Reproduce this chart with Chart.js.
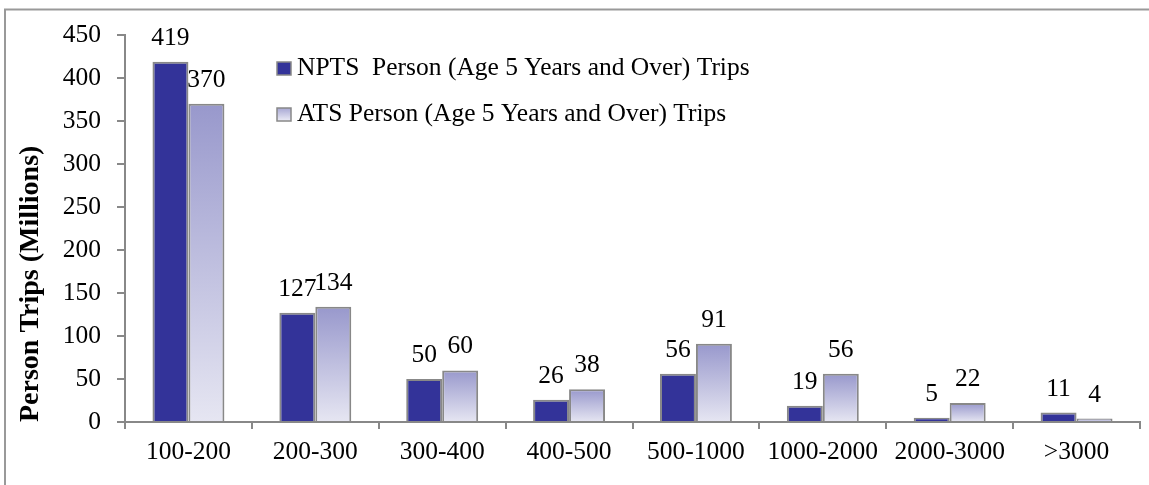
<!DOCTYPE html>
<html>
<head>
<meta charset="utf-8">
<script src="https://cdn.jsdelivr.net/npm/chart.js@4.4.1/dist/chart.umd.min.js"></script>
<style>
html,body{margin:0;padding:0;background:#fff;}
#wrap{position:relative;width:1149px;height:485px;}
</style>
</head>
<body>
<div id="wrap"><canvas id="c" width="1149" height="485"></canvas></div>
<script>
const categories = ["100-200","200-300","300-400","400-500","500-1000","1000-2000","2000-3000",">3000"];
const nptsValues = [419,127,50,26,56,19,5,11];
const atsValues = [370,134,60,38,91,56,22,4];
const seriesNames = ["NPTS  Person (Age 5 Years and Over) Trips","ATS Person (Age 5 Years and Over) Trips"];
const yTitle = "Person Trips (Millions)";

const FONT = "'Liberation Serif', 'Times New Roman', serif";
const FS = 25.5;
const NPTS_COLOR = "#333399";
const BORDER = "#888888";

function atsGradient(ctx){
  const chart = ctx.chart;
  if (!chart.chartArea || ctx.type !== 'data') return "#b8b8dc";
  const y = chart.scales.y;
  const top = y.getPixelForValue(ctx.raw);
  const bottom = y.getPixelForValue(0);
  if (!isFinite(top) || !isFinite(bottom) || bottom - top < 1) return "#dcdcec";
  const g = chart.ctx.createLinearGradient(0, top, 0, bottom);
  g.addColorStop(0, "#9898cc");
  g.addColorStop(1, "#e6e6f2");
  return g;
}

const decorPlugin = {
  id: 'decor',
  afterDraw(chart){
    const c = chart.ctx;
    c.save();
    // outer frame
    c.strokeStyle = "#999999";
    c.lineWidth = 2;
    c.beginPath();
    c.moveTo(5, 490);
    c.lineTo(5, 9.5);
    c.lineTo(1155, 9.5);
    c.stroke();
    // data labels
    c.font = FS + "px " + FONT;
    c.fillStyle = "#000";
    c.textAlign = "center";
    c.textBaseline = "alphabetic";
    chart.data.datasets.forEach((ds, i) => {
      const meta = chart.getDatasetMeta(i);
      meta.data.forEach((el, j) => {
        c.fillText(String(ds.data[j]), el.x, el.y - 17);
      });
    });
    // legend
    const items = [
      {text: seriesNames[0], fill: NPTS_COLOR, base: 75},
      {text: seriesNames[1], fill: null, base: 121}
    ];
    c.textAlign = "left";
    items.forEach(it => {
      const bx = 277, by = it.base - 13, bw = 14, bh = 13;
      if (it.fill) { c.fillStyle = it.fill; }
      else {
        const g = c.createLinearGradient(0, by, 0, by + bh);
        g.addColorStop(0, "#a8a8d4"); g.addColorStop(1, "#ececf6");
        c.fillStyle = g;
      }
      c.fillRect(bx, by, bw, bh);
      c.strokeStyle = BORDER; c.lineWidth = 1.5;
      c.strokeRect(bx, by, bw, bh);
      c.fillStyle = "#000";
      c.fillText(it.text, 297, it.base);
    });
    c.restore();
  }
};

new Chart(document.getElementById('c'), {
  type: 'bar',
  data: {
    labels: categories,
    datasets: [
      {label: seriesNames[0], data: nptsValues, backgroundColor: NPTS_COLOR, borderColor: BORDER, borderWidth: 2, categoryPercentage: 0.567, barPercentage: 1},
      {label: seriesNames[1], data: atsValues, backgroundColor: atsGradient, borderColor: BORDER, borderWidth: 2, categoryPercentage: 0.567, barPercentage: 1}
    ]
  },
  options: {
    responsive: false,
    animation: false,
    devicePixelRatio: 1,
    layout: {padding: {left: 0, right: 9, top: 35, bottom: 0}},
    plugins: {legend: {display: false}, tooltip: {enabled: false}},
    scales: {
      x: {
        grid: {display: true, drawOnChartArea: false, drawTicks: true, tickLength: 7, color: BORDER, lineWidth: 2, offset: true},
        border: {color: BORDER, width: 2},
        ticks: {font: {family: FONT, size: FS}, color: "#000", padding: 8, maxRotation: 0, autoSkip: false},
        afterFit(s){ s.height = 63; }
      },
      y: {
        min: 0, max: 450,
        grid: {display: true, drawOnChartArea: false, drawTicks: true, tickLength: 8, color: BORDER, lineWidth: 2},
        border: {color: BORDER, width: 2},
        ticks: {stepSize: 50, font: {family: FONT, size: FS}, color: "#000", padding: 16},
        title: {display: true, text: yTitle, align: 'start', font: {family: FONT, size: 28, weight: 'bold'}, color: "#000", padding: {top: 14, bottom: 0}},
        afterFit(s){ s.width = 125; }
      }
    }
  },
  plugins: [decorPlugin]
});
</script>
</body>
</html>
